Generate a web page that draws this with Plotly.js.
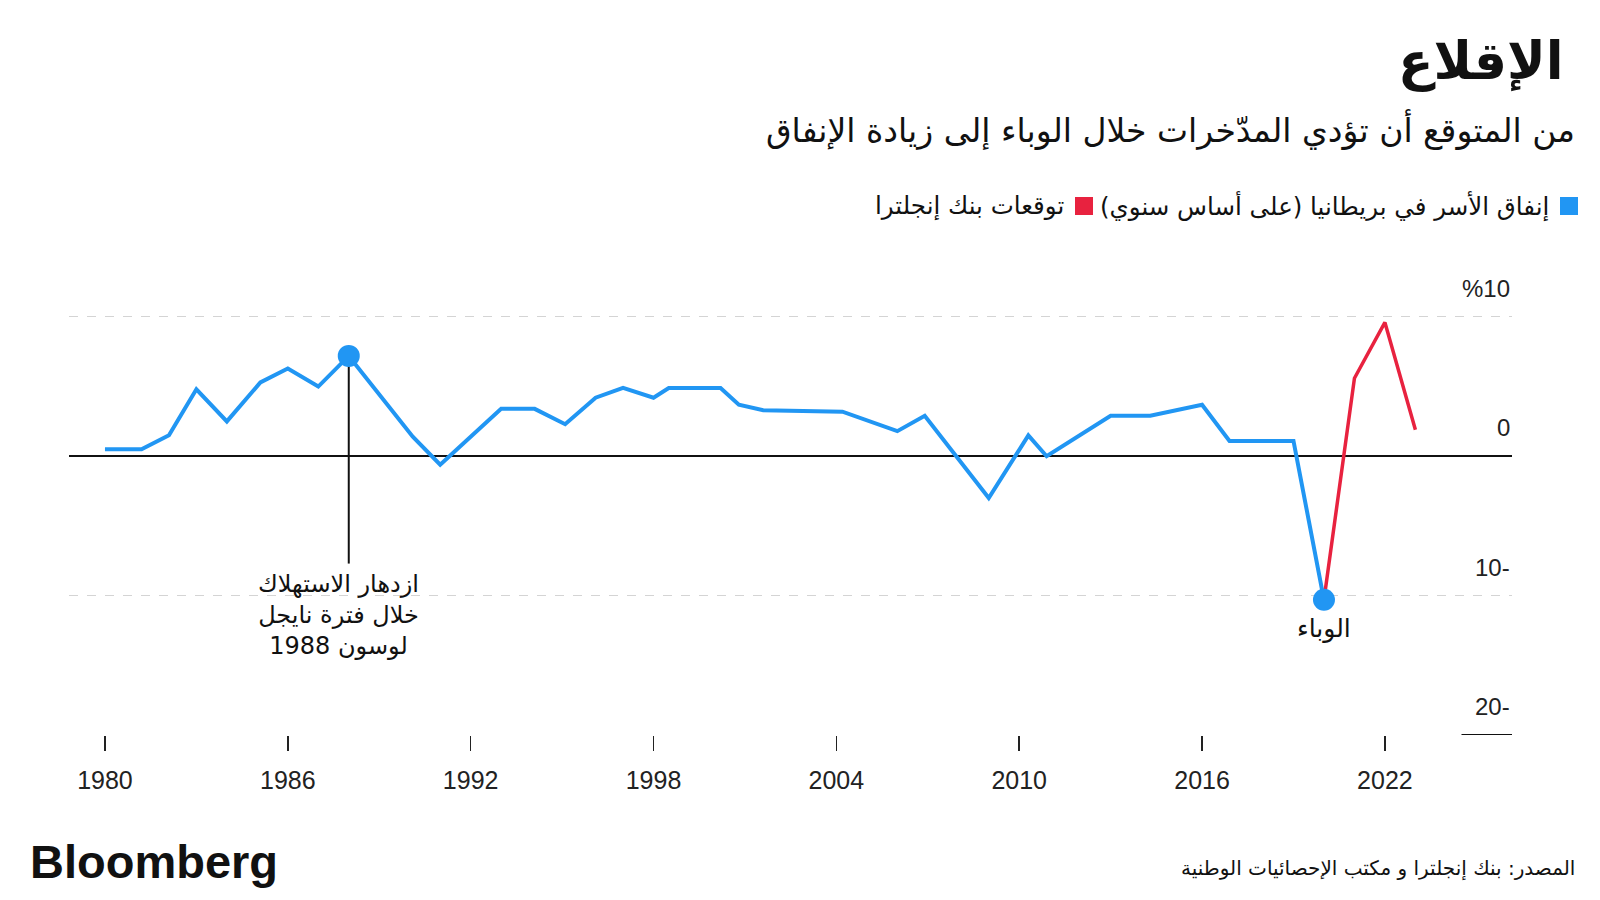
<!DOCTYPE html>
<html>
<head>
<meta charset="utf-8">
<script src="https://cdn.plot.ly/plotly-3.0.1.min.js"></script>
<style>
    html, body { margin: 0; padding: 0; background: #fff; }
    #chart { width: 1600px; height: 900px; }
</style>
</head>
<body>
<div id="chart"></div>
<script>
// UK household spending, annual % change
const spendYears = [1980, 1981.2, 1982.1, 1983, 1984, 1985.1, 1986, 1987, 1988, 1990.1, 1991,
    1993, 1994.1, 1995.1, 1996.1, 1997, 1998, 1998.5, 2000.2, 2000.8, 2001.6, 2004.2,
    2006, 2006.9, 2009, 2010.3, 2010.9, 2013, 2014.3, 2016, 2016.9, 2019, 2020];
const spendValues = [0.5, 0.5, 1.5, 4.8, 2.5, 5.3, 6.3, 5.0, 7.2, 1.4, -0.6,
    3.4, 3.4, 2.3, 4.2, 4.9, 4.2, 4.9, 4.9, 3.7, 3.3, 3.2,
    1.8, 2.9, -3.0, 1.5, 0.0, 2.9, 2.9, 3.7, 1.1, 1.1, -10.3];

// Bank of England forecast
const forecastYears = [2020, 2021, 2022, 2023];
const forecastValues = [-10.3, 5.6, 9.6, 1.9];

// Highlighted points: Lawson boom and the pandemic
const boomIndex = 8;
const pandemicIndex = spendYears.length - 1;
const boomLineEnd = -7.7;

const xTicks = [1980, 1986, 1992, 1998, 2004, 2010, 2016, 2022];
const yLabelValues = [10, 0, -10, -20];
const yLabelTexts = ['%10', '0', '10-', '20-'];

const blue = '#2196f3';
const red = '#e8223f';
const arabicFont = '"DejaVu Sans", sans-serif';
const latinFont = '"Liberation Sans", Arial, sans-serif';

// Plot area in pixels
const marginLeft = 69, marginRight = 88, marginTop = 289, marginBottom = 165;
const plotWidth = 1600 - marginLeft - marginRight;
const plotHeight = 900 - marginTop - marginBottom;
const toPaperX = px => (px - marginLeft) / plotWidth;
const toPaperY = px => (900 - marginBottom - px) / plotHeight;

const spending = {
    x: spendYears,
    y: spendValues,
    type: 'scatter',
    mode: 'lines',
    line: { color: blue, width: 4 },
    hoverinfo: 'skip'
};

const forecast = {
    x: forecastYears,
    y: forecastValues,
    type: 'scatter',
    mode: 'lines',
    line: { color: red, width: 3.5 },
    hoverinfo: 'skip'
};

const highlights = {
    x: [spendYears[boomIndex], spendYears[pandemicIndex]],
    y: [spendValues[boomIndex], spendValues[pandemicIndex]],
    type: 'scatter',
    mode: 'markers',
    marker: { color: blue, size: 22 },
    hoverinfo: 'skip'
};

// Y labels sit above their lines, right aligned
const yLabels = yLabelValues.map((v, i) => ({
    x: 1, xref: 'paper', xanchor: 'right',
    y: v, yref: 'y', yanchor: 'bottom', yshift: 13,
    text: yLabelTexts[i], showarrow: false,
    font: { family: latinFont, size: 24, color: '#222' }
}));

// Text placed by pixel position on the page
function pageText(text, px, py, anchor, size, family) {
    return {
        x: toPaperX(px), xref: 'paper', xanchor: anchor,
        y: toPaperY(py), yref: 'paper', yanchor: 'middle',
        text: text, showarrow: false,
        font: { family: family, size: size, color: '#111' }
    };
}

const annotations = yLabels.concat([
    pageText('<b>الإقلاع</b>', 1566, 61, 'right', 52, arabicFont),
    pageText('من المتوقع أن تؤدي المدّخرات خلال الوباء إلى زيادة الإنفاق', 1577, 130, 'right', 33, arabicFont),
    pageText('إنفاق الأسر في بريطانيا (على أساس سنوي)', 1551, 206, 'right', 24.5, arabicFont),
    pageText('توقعات بنك إنجلترا', 1066, 206, 'right', 24.5, arabicFont),
    pageText('<b>Bloomberg</b>', 28, 861, 'left', 47, latinFont),
    pageText('المصدر: بنك إنجلترا و مكتب الإحصائيات الوطنية', 1577, 868, 'right', 20, arabicFont),
    {
        x: spendYears[boomIndex], xref: 'x', xanchor: 'center', xshift: -10,
        y: boomLineEnd, yref: 'y', yanchor: 'top', yshift: -4,
        text: 'ازدهار الاستهلاك<br>خلال فترة نايجل<br>لوسون 1988', showarrow: false,
        align: 'center',
        font: { family: arabicFont, size: 24, color: '#111' }
    },
    {
        x: spendYears[pandemicIndex], xref: 'x', xanchor: 'center',
        y: spendValues[pandemicIndex], yref: 'y', yanchor: 'top', yshift: -12,
        text: 'الوباء', showarrow: false,
        font: { family: arabicFont, size: 25, color: '#111' }
    }
]);

const shapes = [
    // Boom callout line
    {
        type: 'line', xref: 'x', yref: 'y',
        x0: spendYears[boomIndex], x1: spendYears[boomIndex],
        y0: spendValues[boomIndex], y1: boomLineEnd,
        line: { color: '#111', width: 2 }, layer: 'below'
    },
    // Short baseline at -20
    {
        type: 'line', xref: 'paper', yref: 'y',
        x0: 0.965, x1: 1, y0: -20, y1: -20,
        line: { color: '#111', width: 2 }
    },
    // Legend swatches
    {
        type: 'rect', xref: 'paper', yref: 'paper',
        x0: toPaperX(1560), x1: toPaperX(1578), y0: toPaperY(215), y1: toPaperY(197),
        fillcolor: blue, line: { width: 0 }
    },
    {
        type: 'rect', xref: 'paper', yref: 'paper',
        x0: toPaperX(1075), x1: toPaperX(1093), y0: toPaperY(215), y1: toPaperY(197),
        fillcolor: red, line: { width: 0 }
    }
];

const layout = {
    width: 1600,
    height: 900,
    margin: { l: marginLeft, r: marginRight, t: marginTop, b: marginBottom },
    paper_bgcolor: '#fff',
    plot_bgcolor: '#fff',
    showlegend: false,
    xaxis: {
        range: [1978.82, 2026.17],
        tickvals: xTicks,
        ticktext: xTicks.map(String),
        ticks: 'outside',
        ticklen: 15,
        tickwidth: 1.5,
        tickcolor: '#222',
        ticklabelstandoff: 8,
        showgrid: false,
        zeroline: false,
        showline: false,
        tickfont: { family: latinFont, size: 25, color: '#222' },
        fixedrange: true
    },
    yaxis: {
        range: [-20, 12],
        tickvals: [10, -10],
        showticklabels: false,
        showgrid: true,
        gridcolor: '#d4d4d4',
        griddash: 'dash',
        gridwidth: 1,
        zeroline: true,
        zerolinecolor: '#111',
        zerolinewidth: 2,
        showline: false,
        fixedrange: true
    },
    shapes: shapes,
    annotations: annotations
};

Plotly.newPlot('chart', [spending, forecast, highlights], layout, { displayModeBar: false, staticPlot: true });
</script>
</body>
</html>
